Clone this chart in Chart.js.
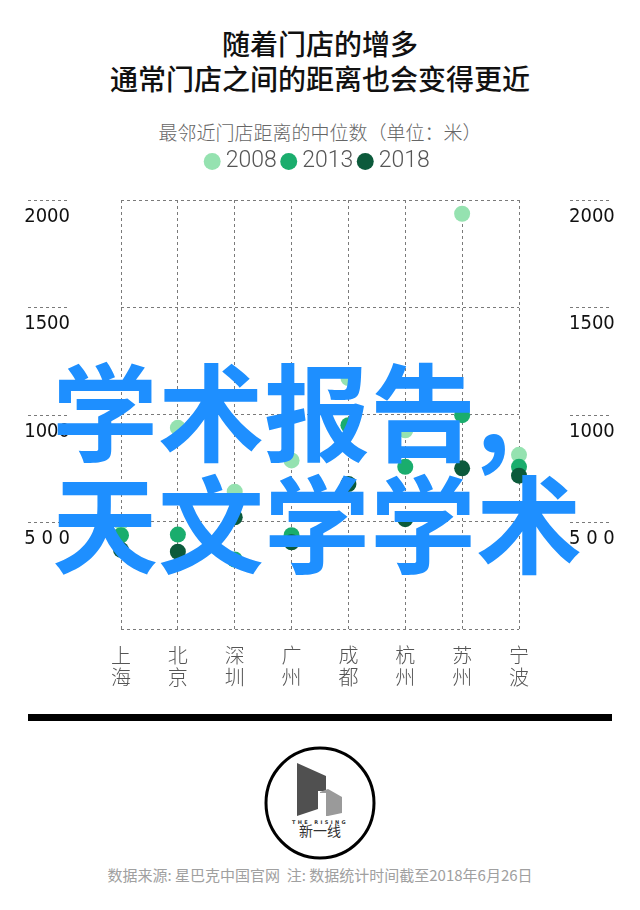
<!DOCTYPE html>
<html>
<head>
<meta charset="utf-8">
<script src="https://cdn.jsdelivr.net/npm/chart.js@4.4.0/dist/chart.umd.min.js"></script>
<style>
body{margin:0;background:#fff;}
#page{position:relative;width:640px;height:910px;overflow:hidden;font-family:"Noto Sans CJK SC",sans-serif;}
.title{position:absolute;left:0;top:26px;width:640px;text-align:center;color:#111;font-size:28px;line-height:35px;font-weight:500;}
.sub{position:absolute;left:0;top:120px;width:640px;text-align:center;color:#666;font-size:19px;line-height:24px;font-weight:300;}
#wrap{position:absolute;left:0;top:137px;width:640px;height:562px;}
.mark{position:absolute;left:52px;top:351px;color:#1e8fff;font-size:106px;line-height:112px;font-weight:700;white-space:nowrap;}
.bar{position:absolute;left:28px;top:714px;width:584px;height:7px;background:#000;}
.logo{position:absolute;left:262px;top:745px;}
.src{position:absolute;left:0;top:864px;width:640px;text-align:center;color:#a0a0a0;font-size:15px;line-height:22px;}
</style>
</head>
<body>
<div id="page">
  <div class="title">随着门店的增多<br>通常门店之间的距离也会变得更近</div>
  <div class="sub">最邻近门店距离的中位数（单位：米）</div>
  <div id="wrap"><canvas id="dot-chart"></canvas></div>
  <div class="mark">学术报告,<br>天文学学术</div>
  <div class="bar"></div>
  <svg class="logo" width="116" height="116" viewBox="0 0 116 116">
    <ellipse cx="58" cy="58" rx="54" ry="55" fill="none" stroke="#000" stroke-width="3"/>
    <polygon points="35,18 64,31 64,46 56,46 56,64 35,71" fill="#505050"/>
    <polygon points="58,47 66,44 80,52 80,68 66,71 58,71" fill="#9a9a9a"/>
    <rect x="56" y="48" width="8" height="24" fill="#fff"/>
    <text x="58" y="79" text-anchor="middle" font-size="5" font-family="DejaVu Sans" font-weight="bold" fill="#333" letter-spacing="2.4">THE RISING</text>
    <text x="58" y="91" text-anchor="middle" font-size="14" fill="#333">新一线</text>
  </svg>
  <div class="src">数据来源: 星巴克中国官网&nbsp;&nbsp;注: 数据统计时间截至2018年6月26日</div>
</div>
<script>
// cities along the bottom, two characters stacked
const cities = [['上','海'],['北','京'],['深','圳'],['广','州'],['成','都'],['杭','州'],['苏','州'],['宁','波']];
const years = ['2008', '2013', '2018'];

// median distance to nearest store (metres)
const dist2008 = [498, 938, 640, 786, 1170, 926, 1936, 812];
const dist2013 = [437, 440, 324, 437, 950, 756, 997, 756];
const dist2018 = [369, 360, 521, 404, 676, 512, 749, 715];

// y ticks and how they are written
const yTickValues = [0, 500, 1000, 1500, 2000];
const yTickLabels = ['', '5 0 0', '1000', '1500', '2000'];

const dotColors = ['#95e2b0', '#1aad6d', '#0c5a3b'];
const gridColor = '#7a7a7a';

//short dashed marks beside the tick labels
const sideDashes = {
    id: 'sideDashes',
    afterDraw(chart){
        let ctx = chart.ctx;
        let yScale = chart.scales.y;
        ctx.save();
        ctx.strokeStyle = gridColor;
        ctx.lineWidth = 1;
        ctx.setLineDash([3, 3]);
        yTickValues.forEach(v => {
            if(v === 0) return;
            let py = Math.round(yScale.getPixelForValue(v)) + 0.5;
            ctx.beginPath();
            ctx.moveTo(28, py); ctx.lineTo(70, py);
            ctx.moveTo(570, py); ctx.lineTo(612, py);
            ctx.stroke();
        });
        ctx.restore();
    }
};

//fixed legend height so the plot starts at the right place
const legendHeight = {
    id: 'legendHeight',
    beforeInit(chart){
        const fit = chart.legend.fit;
        chart.legend.fit = function(){
            fit.bind(chart.legend)();
            this.height = 60;
        };
    }
};

function yAxis(pos){
    return {
        position: pos,
        min: 0,
        max: 2000,
        afterBuildTicks: s => { s.ticks = yTickValues.map(v => ({value: v})); },
        afterFit: s => { s.width = 121; },
        grid: { display: pos === 'left', color: gridColor, lineWidth: 1, drawTicks: false },
        border: { display: false, dash: [3, 3] },
        ticks: {
            color: '#111',
            padding: pos === 'left' ? 51 : 50,
            labelOffset: 17,
            font: { family: '"DejaVu Sans Condensed", "DejaVu Sans", sans-serif', size: 20 },
            callback: v => yTickLabels[yTickValues.indexOf(v)]
        }
    };
}

let datasets = [dist2008, dist2013, dist2018].map((vals, i) => ({
    label: years[i],
    data: vals,
    order: 2 - i,
    showLine: false,
    clip: false,
    pointRadius: 8,
    pointHoverRadius: 8,
    pointBorderWidth: 0,
    backgroundColor: dotColors[i],
    borderColor: dotColors[i]
}));

let dot_chart = new Chart(document.getElementById('dot-chart'), {
    type: 'line',
    data: { labels: cities, datasets: datasets },
    plugins: [sideDashes, legendHeight],
    options: {
        responsive: true,
        maintainAspectRatio: false,
        animation: false,
        layout: { padding: 0 },
        plugins: {
            tooltip: { enabled: false },
            legend: {
                reverse: true,
                labels: {
                    usePointStyle: true,
                    pointStyle: 'circle',
                    boxWidth: 4,
                    boxHeight: 12,
                    padding: 10,
                    color: '#555',
                    font: { family: 'Roboto', size: 23, weight: 300 }
                }
            }
        },
        scales: {
            x: {
                offset: false,
                afterFit: s => { s.height = 70; },
                grid: { color: gridColor, lineWidth: 1, drawTicks: false },
                border: { display: false, dash: [3, 3] },
                ticks: {
                    color: '#555',
                    padding: 15,
                    maxRotation: 0,
                    autoSkip: false,
                    font: { family: '"Noto Sans CJK SC"', size: 20, weight: 300, lineHeight: 1.1 }
                }
            },
            y: yAxis('left'),
            y2: yAxis('right')
        }
    }
});
</script>
</body>
</html>
